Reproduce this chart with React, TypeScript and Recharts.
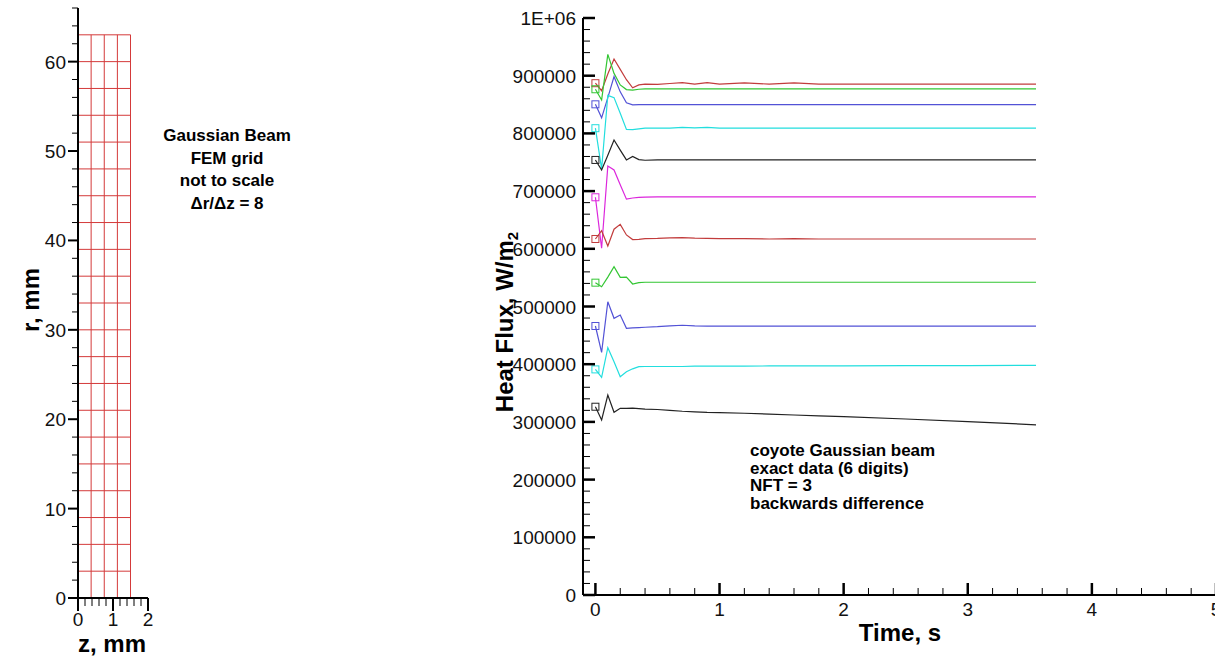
import React from 'react';
import { LineChart, Line, XAxis, YAxis } from 'recharts';

const FONT = '"Liberation Sans", Arial, Helvetica, sans-serif';

// ---- right panel: heat flux history ----
const times = [0, 0.05, 0.1, 0.15, 0.2, 0.25, 0.3, 0.35, 0.4, 0.5, 0.6, 0.7, 0.8, 0.9, 1.0, 1.2, 1.4, 1.6, 1.8, 2.0, 2.5, 3.0, 3.55];

const q1 = [887000, 874000, 903000, 929000, 911000, 893000, 879000, 884000, 885500, 885000, 886500, 888000, 885500, 888000, 885500, 887500, 885500, 887500, 885500, 885500, 885500, 885500, 885500];
const q2 = [876500, 858000, 937000, 904000, 884000, 876000, 875000, 876500, 877000, 877000, 877000, 877000, 877000, 877000, 877000, 877000, 877000, 877000, 877000, 877000, 877000, 877000, 877000];
const q3 = [850400, 827000, 862000, 898300, 872000, 853000, 849500, 850000, 850000, 850000, 850000, 850000, 850000, 850000, 850000, 850000, 850000, 850000, 850000, 850000, 850000, 850000, 850000];
const q4 = [809000, 738300, 866000, 862000, 835000, 807000, 806500, 808000, 809000, 809000, 809000, 810500, 809500, 810500, 809000, 809000, 809000, 809000, 809000, 809000, 809000, 809000, 809000];
const q5 = [754000, 736600, 762000, 788600, 771000, 754000, 760000, 754500, 753500, 754000, 754000, 754000, 754000, 754000, 754000, 754000, 754000, 754000, 754000, 754000, 754000, 754000, 754000];
const q6 = [689300, 600900, 743500, 736600, 711000, 686000, 688000, 689000, 689500, 690000, 690000, 690000, 690000, 690000, 690000, 690000, 690000, 690000, 690000, 690000, 690000, 690000, 690000];
const q7 = [617000, 631400, 604900, 634000, 642400, 624000, 616000, 616500, 617500, 618000, 619000, 619500, 618500, 618000, 617500, 617500, 617000, 617500, 617000, 617000, 617000, 617000, 617000];
const q8 = [541300, 534300, 551000, 569000, 550600, 551000, 539000, 541300, 542000, 542000, 542000, 542000, 542000, 542000, 542000, 542000, 542000, 542000, 542000, 542000, 542000, 542000, 542000];
const q9 = [466200, 420600, 508300, 479500, 485300, 462200, 463000, 463500, 464000, 465000, 466500, 467500, 466500, 466000, 466000, 466000, 466000, 466000, 466000, 466000, 466000, 466000, 466000];
const q10 = [391000, 377300, 428600, 404300, 378300, 387000, 392000, 395700, 396000, 396000, 396000, 396000, 396500, 396500, 396500, 396500, 397000, 397000, 397000, 397000, 397500, 397500, 398000];
const q11 = [326300, 303300, 346600, 316600, 323500, 323500, 324000, 323000, 322000, 321500, 320000, 318500, 317500, 316500, 316000, 315000, 313500, 312000, 310500, 309000, 305000, 300500, 295000];

const RED = '#c23c3c';
const GREEN = '#33c633';
const BLUE = '#5252d6';
const CYAN = '#22dede';
const BLACK = '#222222';
const MAGENTA = '#dc26dc';

const series = [
  { key: 'q1', color: RED, values: q1 },
  { key: 'q2', color: GREEN, values: q2 },
  { key: 'q3', color: BLUE, values: q3 },
  { key: 'q4', color: CYAN, values: q4 },
  { key: 'q5', color: BLACK, values: q5 },
  { key: 'q6', color: MAGENTA, values: q6 },
  { key: 'q7', color: RED, values: q7 },
  { key: 'q8', color: GREEN, values: q8 },
  { key: 'q9', color: BLUE, values: q9 },
  { key: 'q10', color: CYAN, values: q10 },
  { key: 'q11', color: BLACK, values: q11 },
];

const timeTicks = [0, 0.2, 0.4, 0.6, 0.8, 1, 1.2, 1.4, 1.6, 1.8, 2, 2.2, 2.4, 2.6, 2.8, 3, 3.2, 3.4, 3.6, 3.8, 4, 4.2, 4.4, 4.6, 4.8, 5];
const timeLabels = [0, 1, 2, 3, 4, 5];
const fluxTicks = [
  0, 20000, 40000, 60000, 80000, 100000, 120000, 140000, 160000, 180000, 200000, 220000, 240000, 260000, 280000,
  300000, 320000, 340000, 360000, 380000, 400000, 420000, 440000, 460000, 480000, 500000, 520000, 540000, 560000,
  580000, 600000, 620000, 640000, 660000, 680000, 700000, 720000, 740000, 760000, 780000, 800000, 820000, 840000,
  860000, 880000, 900000, 920000, 940000, 960000, 980000, 1000000,
];
const fluxLabels = [0, 100000, 200000, 300000, 400000, 500000, 600000, 700000, 800000, 900000, 1000000];

// ---- left panel: FEM grid ----
const gridR = [0, 3, 6, 9, 12, 15, 18, 21, 24, 27, 30, 33, 36, 39, 42, 45, 48, 51, 54, 57, 60, 63];
const gridZ = [0, 0.375, 0.75, 1.125, 1.5];
const rTicks = [0, 2, 4, 6, 8, 10, 12, 14, 16, 18, 20, 22, 24, 26, 28, 30, 32, 34, 36, 38, 40, 42, 44, 46, 48, 50, 52, 54, 56, 58, 60, 62, 64, 66];
const rLabels = [0, 10, 20, 30, 40, 50, 60];
const zTicks = [0, 0.2, 0.4, 0.6, 0.8, 1, 1.2, 1.4, 1.6, 1.8, 2];
const zLabels = [0, 1, 2];

const gridNote = ['Gaussian Beam', 'FEM grid', 'not to scale', '\u0394r/\u0394z = 8'];
const runNote = ['coyote Gaussian beam', 'exact data (6 digits)', 'NFT = 3', 'backwards difference'];

const rows = times.map((t, i) => {
  const row: Record<string, number> = { t };
  series.forEach((s) => {
    row[s.key] = s.values[i];
  });
  return row;
});

const fmtFlux = (v: number) => (v === 1000000 ? '1E+06' : String(v));

const firstSquare = (color: string) => (props: any) => {
  const { cx, cy, index } = props;
  if (index !== 0 || cx == null || cy == null) return <g key={`d${index}`} />;
  return <rect key={`d${index}`} x={cx - 3.5} y={cy - 3.5} width={7} height={7} fill="none" stroke={color} strokeWidth={1} />;
};

const tickText = { fontFamily: FONT, fontSize: 19, fill: '#111' };

function BottomTick(p: any) {
  const v = p.payload.value;
  const major = timeLabels.includes(v);
  return (
    <g>
      <line x1={p.x} x2={p.x} y1={p.y} y2={p.y - (major ? 12 : 7)} stroke="#000" strokeWidth={major ? 2.5 : 1} />
      {major && (
        <text x={p.x} y={p.y + 21} textAnchor="middle" {...tickText}>
          {v}
        </text>
      )}
    </g>
  );
}

function TopTick(p: any) {
  const major = timeLabels.includes(p.payload.value);
  return <line x1={p.x} x2={p.x} y1={p.y} y2={p.y + (major ? 12 : 7)} stroke="#000" strokeWidth={major ? 2.5 : 1} />;
}

function LeftTick(p: any) {
  const v = p.payload.value;
  const major = fluxLabels.includes(v);
  return (
    <g>
      <line x1={p.x} x2={p.x + (major ? 12 : 7)} y1={p.y} y2={p.y} stroke="#000" strokeWidth={major ? 2.5 : 1} />
      {major && (
        <text x={p.x - 7} y={p.y + 7} textAnchor="end" {...tickText}>
          {fmtFlux(v)}
        </text>
      )}
    </g>
  );
}

function RightTick(p: any) {
  const major = fluxLabels.includes(p.payload.value);
  return <line x1={p.x} x2={p.x - (major ? 12 : 7)} y1={p.y} y2={p.y} stroke="#000" strokeWidth={major ? 2.5 : 1} />;
}

function RTick(p: any) {
  const v = p.payload.value;
  const major = rLabels.includes(v);
  return (
    <g>
      <line x1={p.x} x2={p.x - (major ? 10 : 6)} y1={p.y} y2={p.y} stroke="#000" strokeWidth={major ? 2 : 1} />
      {major && (
        <text x={p.x - 12} y={p.y + 7} textAnchor="end" {...tickText}>
          {v}
        </text>
      )}
    </g>
  );
}

function ZTick(p: any) {
  const v = p.payload.value;
  const major = zLabels.includes(v);
  return (
    <g>
      <line x1={p.x} x2={p.x} y1={p.y} y2={p.y + (major ? 13 : 8)} stroke="#000" strokeWidth={major ? 2 : 1} />
      {major && (
        <text x={p.x} y={p.y + 28} textAnchor="middle" {...tickText}>
          {v}
        </text>
      )}
    </g>
  );
}

const axisLine = { stroke: '#000', strokeWidth: 2 };
const titleStyle = { fontFamily: FONT, fontSize: 24, fontWeight: 700, fill: '#000' } as const;
const noteStyle = { fontFamily: FONT, fontSize: 17, fontWeight: 700, fill: '#000' } as const;

export default function App() {
  return (
    <div style={{ position: 'absolute', left: 0, top: 0, width: 1215, height: 657, overflow: 'hidden', background: '#fff' }}>
      <div style={{ position: 'absolute', left: 0, top: 0 }}>
        <LineChart width={200} height={657} margin={{ top: 8, right: 52, bottom: 19, left: 18 }}>
          <XAxis
            type="number"
            dataKey="z"
            domain={[0, 2]}
            ticks={zTicks}
            interval={0}
            height={40}
            tickSize={0}
            tickMargin={0}
            tickLine={false}
            axisLine={axisLine}
            tick={(p: any) => <ZTick {...p} />}
            allowDataOverflow
          />
          <YAxis
            type="number"
            domain={[0, 66]}
            ticks={rTicks}
            interval={0}
            width={60}
            tickSize={0}
            tickMargin={0}
            tickLine={false}
            axisLine={axisLine}
            tick={(p: any) => <RTick {...p} />}
            allowDataOverflow
          />
          {gridR.map((r) => (
            <Line
              key={`r${r}`}
              data={[{ z: 0, r }, { z: 1.5, r }]}
              dataKey="r"
              stroke="#d43a3a"
              strokeWidth={1}
              dot={false}
              activeDot={false}
              isAnimationActive={false}
            />
          ))}
          {gridZ.map((z) => (
            <Line
              key={`z${z}`}
              data={[{ z, r: 0 }, { z, r: 63 }]}
              dataKey="r"
              stroke="#d43a3a"
              strokeWidth={1}
              dot={false}
              activeDot={false}
              isAnimationActive={false}
            />
          ))}
        </LineChart>
      </div>

      <div style={{ position: 'absolute', left: 0, top: 0 }}>
        <LineChart width={1230} height={657} data={rows} margin={{ top: 18, right: 14, bottom: 22, left: 503 }}>
          <XAxis
            xAxisId="b"
            type="number"
            dataKey="t"
            domain={[-0.1, 5]}
            ticks={timeTicks}
            interval={0}
            height={40}
            tickSize={0}
            tickMargin={0}
            tickLine={false}
            axisLine={axisLine}
            tick={(p: any) => <BottomTick {...p} />}
            allowDataOverflow
          />
          <XAxis
            xAxisId="t"
            orientation="top"
            type="number"
            dataKey="t"
            domain={[-0.1, 5]}
            ticks={timeTicks}
            interval={0}
            height={0}
            tickSize={0}
            tickMargin={0}
            tickLine={false}
            axisLine={axisLine}
            tick={(p: any) => <TopTick {...p} />}
            allowDataOverflow
          />
          <YAxis
            yAxisId="l"
            type="number"
            domain={[0, 1000000]}
            ticks={fluxTicks}
            interval={0}
            width={80}
            tickSize={0}
            tickMargin={0}
            tickLine={false}
            axisLine={axisLine}
            tick={(p: any) => <LeftTick {...p} />}
            allowDataOverflow
          />
          <YAxis
            yAxisId="r"
            orientation="right"
            type="number"
            domain={[0, 1000000]}
            ticks={fluxTicks}
            interval={0}
            width={0}
            tickSize={0}
            tickMargin={0}
            tickLine={false}
            axisLine={axisLine}
            tick={(p: any) => <RightTick {...p} />}
            allowDataOverflow
          />
          <Line
            xAxisId="t"
            yAxisId="r"
            dataKey="q1"
            stroke="none"
            dot={false}
            activeDot={false}
            legendType="none"
            isAnimationActive={false}
          />
          {series.map((s) => (
            <Line
              key={s.key}
              xAxisId="b"
              yAxisId="l"
              type="linear"
              dataKey={s.key}
              stroke={s.color}
              strokeWidth={1.2}
              dot={firstSquare(s.color)}
              activeDot={false}
              isAnimationActive={false}
            />
          ))}
        </LineChart>
      </div>

      <svg width={1215} height={657} style={{ position: 'absolute', left: 0, top: 0, pointerEvents: 'none' }}>
        <text transform="translate(30,300) rotate(-90)" textAnchor="middle" dominantBaseline="central" {...titleStyle}>
          r, mm
        </text>
        <text x={112} y={652} textAnchor="middle" {...titleStyle}>
          z, mm
        </text>
        {gridNote.map((line, i) => (
          <text key={line} x={227} y={141 + i * 22.5} textAnchor="middle" {...noteStyle}>
            {line}
          </text>
        ))}
        <text transform="translate(513,322) rotate(-90)" textAnchor="middle" {...titleStyle}>
          Heat Flux, W/m
          <tspan fontSize={15} dy={5}>
            2
          </tspan>
        </text>
        <text x={900} y={641} textAnchor="middle" {...titleStyle}>
          Time, s
        </text>
        {runNote.map((line, i) => (
          <text key={line} x={750} y={456 + i * 17.7} {...noteStyle}>
            {line}
          </text>
        ))}
      </svg>
    </div>
  );
}
